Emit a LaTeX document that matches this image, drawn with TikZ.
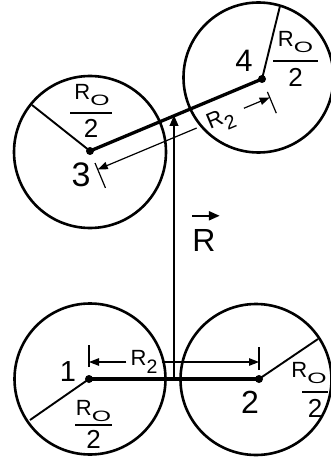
\documentclass[tikz,border=0pt]{standalone}
\usepackage{fontspec}
\usepackage{graphicx}
\setmainfont{Liberation Sans}
\usetikzlibrary{arrows.meta,calc}

\newcommand{\Rsub}{R\raisebox{-6pt}{\fontsize{15}{15}\selectfont\scalebox{1.65}[1]{O}}}
\newcommand{\Rtwo}{R\raisebox{-8pt}{\fontsize{19.5}{19.5}\selectfont 2}}
% name, position, bar half width, numerator x shift, numerator offset, denominator offset
\newcommand{\rofrac}[6]{%
  \coordinate (#1) at #2;
  \draw[fracbar] ([xshift=-#3pt]#1) -- ([xshift=#3pt]#1);
  \node[lbl, anchor=base] (#1n) at ([xshift=#4pt,yshift=#5pt]#1) {\Rsub};
  \node[den, anchor=base] (#1d) at ([yshift=-#6pt]#1) {2};
}

\begin{document}
\begin{tikzpicture}[x=1pt,y=-1pt,
  ring/.style={line width=2.6pt},
  bond/.style={line width=3.3pt},
  vecline/.style={line width=2.3pt,-{Triangle[length=11pt,width=8.5pt]}},
  dimline/.style={line width=1.2pt,-{Triangle[length=10pt,width=7.5pt]}},
  ticks/.style={line width=1.2pt},
  radline/.style={line width=1.9pt},
  fracbar/.style={line width=2pt},
  lbl/.style={inner sep=0pt, font=\fontsize{22}{22}\selectfont},
  num/.style={inner sep=0pt},
  den/.style={inner sep=0pt, font=\fontsize{26}{26}\selectfont},
]
\useasboundingbox (0,0) rectangle (331,457);

% centres (dots)
\coordinate (c1) at (89,379);
\coordinate (c2) at (259,379);
\coordinate (c3) at (90,151);
\coordinate (c4) at (262,79);

% circles
\draw[ring] (90,379) circle[radius=75.5];
\draw[ring] (256,379.5) circle[radius=75.5];
\draw[ring] (90,152) circle[radius=76];
\draw[ring] (258.5,77.5) circle[radius=75];

% radius lines
\coordinate (e1) at (30,420);
\coordinate (e2) at (318,339);
\coordinate (e3) at (32,105);
\coordinate (e4) at (280,6);
\draw[radline] (c1) -- (e1);
\draw[radline] (c2) -- (e2);
\draw[radline] (c3) -- (e3);
\draw[radline] (c4) -- (e4);

% bonds
\draw[bond] (c1) -- (c2);
\draw[bond] (c3) -- (c4);

% dots
\foreach \c in {c1,c2,c3,c4} \fill (\c) circle[radius=4];

% vector R
\coordinate (m12) at ($(c1)!0.5!(c2)$);
\coordinate (m34) at ($(c3)!0.5!(c4)$);
\draw[vecline] (m12) -- (m12 |- m34);
\node[inner sep=0pt, font=\fontsize{32}{32}\selectfont] (rv) at (204,240) {R};
\draw[line width=2.3pt,-{Triangle[length=11pt,width=9pt]}] ([yshift=13pt]rv.north west) -- ([yshift=13pt,xshift=4pt]rv.north east);

% bottom R2 dimension
\coordinate (b1) at ($(c1)+(0,-17)$);
\coordinate (b2) at ($(c2)+(0,-17)$);
\draw[ticks] ($(c1)+(0,-12)$) -- ($(c1)+(0,-34)$);
\draw[ticks] ($(c2)+(0,-9)$) -- ($(c2)+(0,-32)$);
\node[lbl, inner xsep=4pt] (r2b) at (144,362) {\Rtwo};
\draw[dimline] (r2b.west |- b1) -- (b1);
\draw[dimline] (r2b.east |- b2) -- (b2);

% top R2 dimension
\coordinate (t3) at ($(c3)!20pt!-90:(c4)$);
\coordinate (t4) at ($(c4)!20pt!90:(c3)$);
\coordinate (g3) at ($(t3)!0.575!(t4)$);
\coordinate (g4) at ($(t3)!0.85!(t4)$);
\draw[ticks] ($(c3)!13pt!-90:(c4)$) -- ($(c3)!40pt!-90:(c4)$);
\draw[ticks] ($(c4)!14pt!90:(c3)$) -- ($(c4)!37pt!90:(c3)$);
\node[lbl, rotate=22.7] (r2t) at ($(c3)!0.71!(c4)!23pt!-90:(c4)$) {\Rtwo};
\draw[dimline] (g3) -- (t3);
\draw[dimline] (g4) -- (t4);

% numbers
\node[num, font=\fontsize{29}{29}\selectfont] (n1) at (68,372) {1};
\node[num, font=\fontsize{32}{32}\selectfont] (n2) at (250,402) {2};
\node[num, font=\fontsize{34}{34}\selectfont] (n3) at (81,175) {3};
\node[num, font=\fontsize{31}{31}\selectfont] (n4) at (244,61) {4};

% R0/2 fractions
\rofrac{f4}{(295.5,61)}{22.5}{0}{14}{26}
\rofrac{f3}{(91,113)}{21}{1}{13}{25}
\rofrac{f1}{(93.5,425)}{18.5}{0}{10}{23}
\rofrac{f2}{(315,392)}{13}{-6}{15}{25}
\end{tikzpicture}
\end{document}
